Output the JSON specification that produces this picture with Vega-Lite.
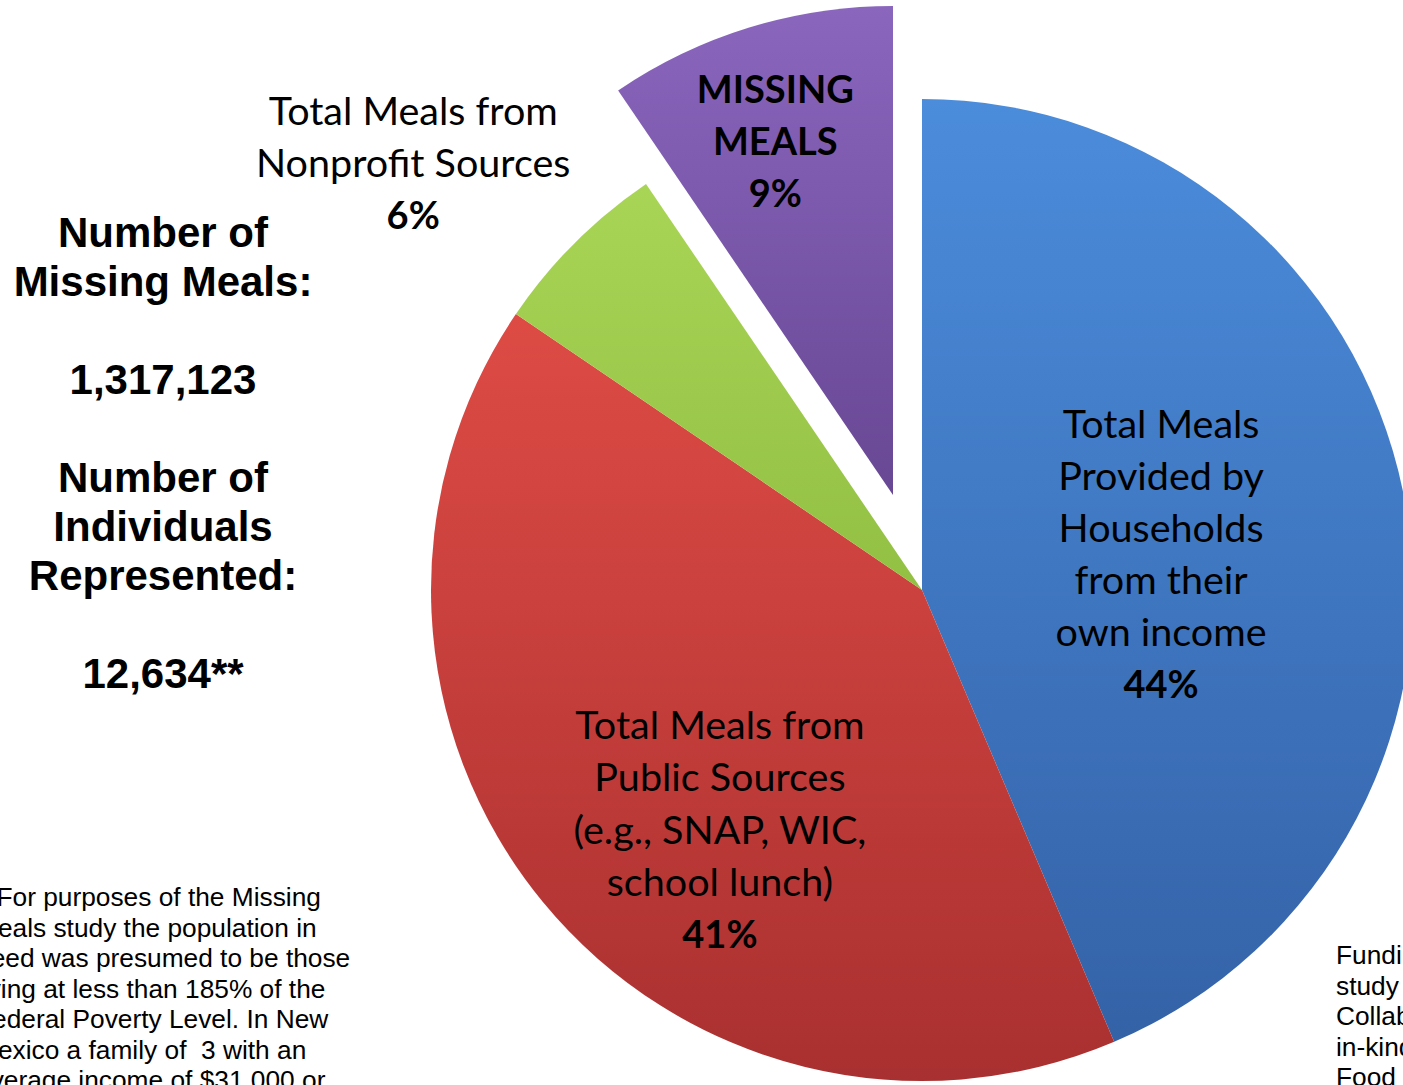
{
  "$schema": "https://vega.github.io/schema/vega-lite/v6.json",
  "autosize": {"type": "none"},
  "width": 962,
  "height": 990,
  "padding": {"left": 441, "top": 95, "right": 0, "bottom": 0},
  "background": "white",
  "config": {"view": {"stroke": null}},
  "datasets": {
    "slices": [
      {"category": "Households", "value": 43.6, "label": "Total Meals\nProvided by\nHouseholds\nfrom their\nown income", "pct": "44%"},
      {"category": "Public", "value": 40.9, "label": "Total Meals from\nPublic Sources\n(e.g., SNAP, WIC,\nschool lunch)", "pct": "41%"},
      {"category": "Nonprofit", "value": 6.0, "label": "Total Meals from\nNonprofit Sources", "pct": "6%"},
      {"category": "Missing", "value": 9.5, "label": "MISSING\nMEALS", "pct": "9%"}
    ],
    "notes": [
      {"id": "stat1", "text": "Number of\nMissing Meals:"},
      {"id": "stat1v", "text": "1,317,123"},
      {"id": "stat2", "text": "Number of\nIndividuals\nRepresented:"},
      {"id": "stat2v", "text": "12,634**"},
      {"id": "left", "text": "**For purposes of the Missing\nMeals study the population in\nneed was presumed to be those\nliving at less than 185% of the\nFederal Poverty Level. In New\nMexico a family of\u00a0 3 with an\naverage income of $31,000 or"},
      {"id": "right", "text": "Funding for this\nstudy was provided by\nCollaborative partners and\nin-kind support from\nFood Bank"}
    ]
  },
  "layer": [
    {
      "data": {"name": "slices"},
      "transform": [{"stack": "value", "groupby": [], "as": ["start", "end"]}],
      "layer": [
        {
          "transform": [{"filter": {"field": "category", "equal": "Households"}}],
          "mark": {"type": "arc", "radius": 491, "fill": {"gradient": "linear", "x1": 0, "y1": 0, "x2": 0, "y2": 1, "stops": [{"offset": 0, "color": "#4b8cdb"}, {"offset": 1, "color": "#3462a7"}]}},
          "encoding": {"theta": {"field": "start", "type": "quantitative", "scale": {"domain": [0, 100]}}, "theta2": {"field": "end"}}
        },
        {
          "transform": [{"filter": {"field": "category", "equal": "Public"}}],
          "mark": {"type": "arc", "radius": 491, "fill": {"gradient": "linear", "x1": 0, "y1": 0, "x2": 0, "y2": 1, "stops": [{"offset": 0, "color": "#de4b45"}, {"offset": 1, "color": "#a93030"}]}},
          "encoding": {"theta": {"field": "start", "type": "quantitative", "scale": {"domain": [0, 100]}}, "theta2": {"field": "end"}}
        },
        {
          "transform": [{"filter": {"field": "category", "equal": "Nonprofit"}}],
          "mark": {"type": "arc", "radius": 491, "fill": {"gradient": "linear", "x1": 0, "y1": 0, "x2": 0, "y2": 1, "stops": [{"offset": 0, "color": "#a9d556"}, {"offset": 1, "color": "#92c043"}]}},
          "encoding": {"theta": {"field": "start", "type": "quantitative", "scale": {"domain": [0, 100]}}, "theta2": {"field": "end"}}
        },
        {
          "transform": [{"filter": {"field": "category", "equal": "Missing"}}],
          "mark": {"type": "arc", "radius": 489, "xOffset": -29, "yOffset": -95, "fill": {"gradient": "linear", "x1": 0, "y1": 0, "x2": 0, "y2": 1, "stops": [{"offset": 0, "color": "#8a66bd"}, {"offset": 1, "color": "#684794"}]}},
          "encoding": {"theta": {"field": "start", "type": "quantitative", "scale": {"domain": [0, 100]}}, "theta2": {"field": "end"}}
        },
        {
          "transform": [{"filter": {"field": "category", "equal": "Households"}}],
          "layer": [
            {"mark": {"type": "text", "radius": 304.7, "thetaOffset": 0.902, "font": "Lato", "fontSize": 39.5, "lineBreak": "\n", "lineHeight": 52, "baseline": "line-top", "align": "center", "color": "black"},
             "encoding": {"theta": {"field": "start", "type": "quantitative", "stack": null, "scale": {"domain": [0, 100]}}, "text": {"field": "label"}}},
            {"mark": {"type": "text", "radius": 304.7, "thetaOffset": 0.902, "dy": 260, "font": "Lato", "fontSize": 38, "fontWeight": "bold", "lineHeight": 52, "baseline": "line-top", "align": "center", "color": "black"},
             "encoding": {"theta": {"field": "start", "type": "quantitative", "stack": null, "scale": {"domain": [0, 100]}}, "text": {"field": "pct"}}}
          ]
        },
        {
          "transform": [{"filter": {"field": "category", "equal": "Public"}}],
          "layer": [
            {"mark": {"type": "text", "radius": 230.5, "thetaOffset": 1.471, "font": "Lato", "fontSize": 39.5, "lineBreak": "\n", "lineHeight": 52.5, "baseline": "line-top", "align": "center", "color": "black"},
             "encoding": {"theta": {"field": "start", "type": "quantitative", "stack": null, "scale": {"domain": [0, 100]}}, "text": {"field": "label"}}},
            {"mark": {"type": "text", "radius": 230.5, "thetaOffset": 1.471, "dy": 210, "font": "Lato", "fontSize": 38, "fontWeight": "bold", "lineHeight": 52.5, "baseline": "line-top", "align": "center", "color": "black"},
             "encoding": {"theta": {"field": "start", "type": "quantitative", "stack": null, "scale": {"domain": [0, 100]}}, "text": {"field": "pct"}}}
          ]
        },
        {
          "transform": [{"filter": {"field": "category", "equal": "Nonprofit"}}],
          "layer": [
            {"mark": {"type": "text", "radius": 714.9, "thetaOffset": 0.182, "font": "Lato", "fontSize": 39.5, "lineBreak": "\n", "lineHeight": 52, "baseline": "line-top", "align": "center", "color": "black"},
             "encoding": {"theta": {"field": "start", "type": "quantitative", "stack": null, "scale": {"domain": [0, 100]}}, "text": {"field": "label"}}},
            {"mark": {"type": "text", "radius": 714.9, "thetaOffset": 0.182, "dy": 104, "font": "Lato", "fontSize": 38, "fontWeight": "bold", "lineHeight": 52, "baseline": "line-top", "align": "center", "color": "black"},
             "encoding": {"theta": {"field": "start", "type": "quantitative", "stack": null, "scale": {"domain": [0, 100]}}, "text": {"field": "pct"}}}
          ]
        },
        {
          "transform": [{"filter": {"field": "category", "equal": "Missing"}}],
          "layer": [
            {"mark": {"type": "text", "radius": 544.2, "thetaOffset": 0.324, "font": "Lato", "fontSize": 38, "fontWeight": "bold", "lineBreak": "\n", "lineHeight": 52, "baseline": "line-top", "align": "center", "color": "black"},
             "encoding": {"theta": {"field": "start", "type": "quantitative", "stack": null, "scale": {"domain": [0, 100]}}, "text": {"field": "label"}}},
            {"mark": {"type": "text", "radius": 544.2, "thetaOffset": 0.324, "dy": 104, "font": "Lato", "fontSize": 38, "fontWeight": "bold", "lineHeight": 52, "baseline": "line-top", "align": "center", "color": "black"},
             "encoding": {"theta": {"field": "start", "type": "quantitative", "stack": null, "scale": {"domain": [0, 100]}}, "text": {"field": "pct"}}}
          ]
        }
      ]
    },
    {
      "data": {"name": "notes"},
      "layer": [
        {
          "transform": [{"filter": {"field": "id", "equal": "stat1"}}],
          "mark": {"type": "text", "x": -278, "y": 152, "font": "Liberation Sans", "fontSize": 42, "fontWeight": "bold", "lineBreak": "\n", "lineHeight": 49, "baseline": "alphabetic", "align": "center", "color": "black"},
          "encoding": {"text": {"field": "text"}}
        },
        {
          "transform": [{"filter": {"field": "id", "equal": "stat1v"}}],
          "mark": {"type": "text", "x": -278, "y": 299, "font": "Liberation Sans", "fontSize": 42, "fontWeight": "bold", "lineBreak": "\n", "lineHeight": 49, "baseline": "alphabetic", "align": "center", "color": "black"},
          "encoding": {"text": {"field": "text"}}
        },
        {
          "transform": [{"filter": {"field": "id", "equal": "stat2"}}],
          "mark": {"type": "text", "x": -278, "y": 397, "font": "Liberation Sans", "fontSize": 42, "fontWeight": "bold", "lineBreak": "\n", "lineHeight": 49, "baseline": "alphabetic", "align": "center", "color": "black"},
          "encoding": {"text": {"field": "text"}}
        },
        {
          "transform": [{"filter": {"field": "id", "equal": "stat2v"}}],
          "mark": {"type": "text", "x": -278, "y": 593, "font": "Liberation Sans", "fontSize": 42, "fontWeight": "bold", "lineBreak": "\n", "lineHeight": 49, "baseline": "alphabetic", "align": "center", "color": "black"},
          "encoding": {"text": {"field": "text"}}
        },
        {
          "transform": [{"filter": {"field": "id", "equal": "left"}}],
          "mark": {"type": "text", "x": -465, "y": 811, "font": "Liberation Sans", "fontSize": 26.3, "lineBreak": "\n", "lineHeight": 30.5, "baseline": "alphabetic", "align": "left", "color": "black"},
          "encoding": {"text": {"field": "text"}}
        },
        {
          "transform": [{"filter": {"field": "id", "equal": "right"}}],
          "mark": {"type": "text", "x": 895, "y": 869, "font": "Liberation Sans", "fontSize": 26.3, "lineBreak": "\n", "lineHeight": 30.5, "baseline": "alphabetic", "align": "left", "color": "black"},
          "encoding": {"text": {"field": "text"}}
        }
      ]
    }
  ]
}
